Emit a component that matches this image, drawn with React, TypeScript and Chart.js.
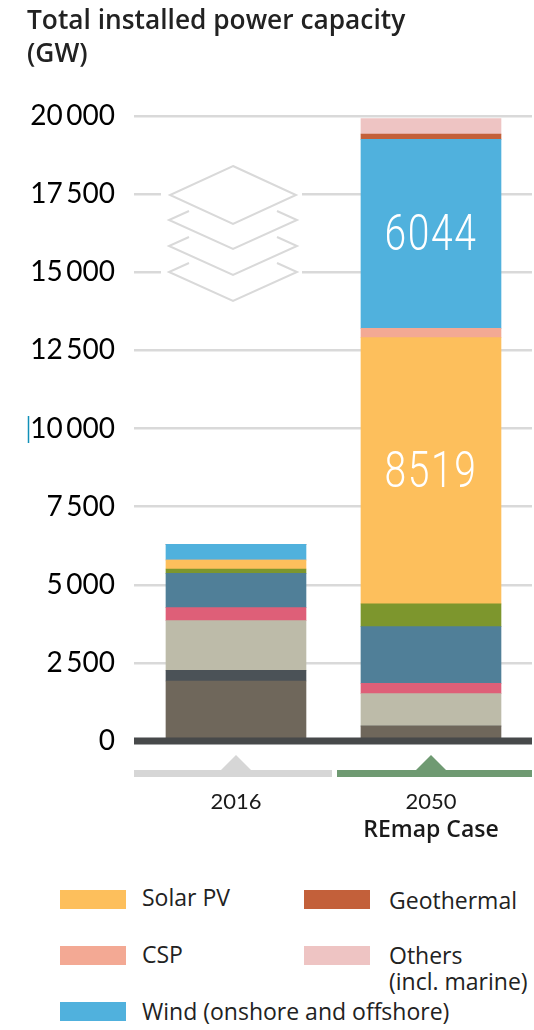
import React, { useEffect, useRef } from "react";
import { Chart, registerables } from "chart.js";

Chart.register(...registerables);

const years = ["2016", "2050"];
const subLabels = ["", "REmap Case"];
const yTicks = [0, 2500, 5000, 7500, 10000, 12500, 15000, 17500, 20000];
const tickText = ["0", "2\u2009500", "5\u2009000", "7\u2009500", "10\u2009000", "12\u2009500", "15\u2009000", "17\u2009500", "20\u2009000"];

const coal = [1920, 480];
const oil = [340, 0];
const gas = [1590, 1035];
const nuclear = [416, 330];
const hydro = [1098, 1813];
const bio = [139, 729];
const solarPV = [288, 8519];
const csp = [0, 300];
const wind = [502, 6044];
const geothermal = [0, 170];
const others = [0, 500];

const seriesList = [
  { label: "Coal", data: coal, color: "#6f675b", show: false },
  { label: "Oil", data: oil, color: "#4b5257", show: false },
  { label: "Gas", data: gas, color: "#bdbba9", show: false },
  { label: "Nuclear", data: nuclear, color: "#de5f78", show: false },
  { label: "Hydro", data: hydro, color: "#507f98", show: false },
  { label: "Bioenergy", data: bio, color: "#7d962d", show: false },
  { label: "Solar PV", data: solarPV, color: "#fdbf5c", show: true },
  { label: "CSP", data: csp, color: "#f3a994", show: false },
  { label: "Wind (onshore and offshore)", data: wind, color: "#50b1dd", show: true },
  { label: "Geothermal", data: geothermal, color: "#c3603a", show: false },
  { label: "Others", data: others, color: "#eec4c3", show: false },
];

const legendEntries = [
  { name: "Solar PV", color: "#fdbf5c", x: 60, y: 890, tx: 142, ty: 884 },
  { name: "Geothermal", color: "#c3603a", x: 304, y: 890, tx: 389, ty: 887 },
  { name: "CSP", color: "#f3a994", x: 60, y: 946, tx: 142, ty: 941 },
  { name: "Others\n(incl. marine)", color: "#eec4c3", x: 304, y: 946, tx: 389, ty: 942 },
  { name: "Wind (onshore and offshore)", color: "#50b1dd", x: 60, y: 1002, tx: 142, ty: 998 },
];

const FONT = "Lato, sans-serif";
const TEXT_FONT = "'Open Sans', sans-serif";

const decorations = {
  id: "decorations",
  afterDatasetsDraw(chart: any) {
    const { ctx, scales, chartArea } = chart;
    const xs = scales.x;
    const ys = scales.y;
    ctx.save();

    // zero baseline, limited to the plot width
    ctx.fillStyle = "#47494a";
    ctx.fillRect(chartArea.left, ys.getPixelForValue(0) - 3.5, chartArea.right - chartArea.left, 7);

    // stacked layers icon, sitting on a white patch that interrupts the gridlines
    ctx.fillStyle = "#fff";
    ctx.fillRect(161, 180, 141, 110);
    ctx.strokeStyle = "#d9d9d9";
    ctx.lineWidth = 2;
    ctx.lineJoin = "miter";
    const cx = 233;
    ctx.beginPath();
    ctx.moveTo(cx, 166);
    ctx.lineTo(cx + 63, 195);
    ctx.lineTo(cx, 224);
    ctx.lineTo(cx - 63, 195);
    ctx.closePath();
    ctx.stroke();
    [220, 246, 272].forEach((mid) => {
      ctx.beginPath();
      ctx.moveTo(cx - 44, mid - 9);
      ctx.lineTo(cx - 64, mid);
      ctx.lineTo(cx, mid + 29);
      ctx.lineTo(cx + 64, mid);
      ctx.lineTo(cx + 44, mid - 9);
      ctx.stroke();
    });

    // small scan mark beside the 10 000 label
    ctx.strokeStyle = "#1190b8";
    ctx.lineWidth = 1.5;
    ctx.beginPath();
    ctx.moveTo(28.5, 416);
    ctx.lineTo(28.5, 443);
    ctx.stroke();

    // year brackets with pointers
    const brackets = [
      { c: "#d6d6d6", from: 134, to: 332, v: 0 },
      { c: "#6f9a72", from: 337, to: 532, v: 1 },
    ];
    brackets.forEach((b) => {
      const mx = xs.getPixelForValue(b.v);
      ctx.fillStyle = b.c;
      ctx.fillRect(b.from, 770, b.to - b.from, 7);
      ctx.beginPath();
      ctx.moveTo(mx - 16, 771);
      ctx.lineTo(mx, 755);
      ctx.lineTo(mx + 16, 771);
      ctx.closePath();
      ctx.fill();
    });

    // second line below the year
    ctx.fillStyle = "#1a1a1a";
    ctx.font = `600 23px ${TEXT_FONT}`;
    ctx.textAlign = "center";
    ctx.textBaseline = "middle";
    subLabels.forEach((t, i) => {
      if (t) ctx.fillText(t, xs.getPixelForValue(i), 830);
    });

    // big value labels inside the segments
    chart.data.datasets.forEach((ds: any, di: number) => {
      if (!seriesList[di].show) return;
      let base = 0;
      for (let k = 0; k < di; k++) base += seriesList[k].data[1];
      const v = ds.data[1].y;
      const y = ys.getPixelForValue(base + v / 2);
      const x = xs.getPixelForValue(1);
      ctx.save();
      ctx.translate(x, y);
      ctx.scale(0.78, 1);
      ctx.fillStyle = "#fff";
      ctx.font = `300 50px Roboto, sans-serif`;
      (ctx as any).letterSpacing = "2px";
      ctx.textAlign = "center";
      ctx.textBaseline = "middle";
      ctx.fillText(String(v), 0, 4);
      ctx.restore();
    });
    ctx.restore();
  },
};

export default function App() {
  const ref = useRef<HTMLCanvasElement | null>(null);

  useEffect(() => {
    const chart = new Chart(ref.current as HTMLCanvasElement, {
      type: "bar",
      data: {
        datasets: seriesList.map((s) => ({
          label: s.label,
          data: s.data.map((y, i) => ({ x: i, y })),
          backgroundColor: s.color,
          barThickness: 140,
          borderWidth: 0,
        })),
      },
      options: {
        animation: false,
        responsive: false,
        layout: { padding: { top: 116, right: 2, left: 0, bottom: 0 } },
        plugins: { legend: { display: false }, tooltip: { enabled: false } },
        scales: {
          x: {
            type: "linear",
            stacked: true,
            offset: false,
            min: -0.523,
            max: 1.518,
            afterBuildTicks(s: any) {
              s.ticks = years.map((_, i) => ({ value: i }));
            },
            afterFit(s: any) {
              s.height = 119;
            },
            grid: { display: false, drawTicks: false, offset: false },
            border: { display: false },
            ticks: {
              autoSkip: false,
              maxRotation: 0,
              padding: 48,
              color: "#1a1a1a",
              font: { family: FONT, size: 22 },
              callback: (v: any) => years[v] ?? "",
            },
          },
          y: {
            stacked: true,
            min: 0,
            max: 20000,
            afterBuildTicks(s: any) {
              s.ticks = yTicks.map((value) => ({ value }));
            },
            afterFit(s: any) {
              s.width = 134;
            },
            grid: { color: "#d9d9d9", lineWidth: 2.5, drawTicks: false },
            border: { display: false },
            ticks: {
              padding: 19,
              color: "#000",
              font: { family: FONT, size: 28, weight: "400" },
              callback: (v: any) => tickText[yTicks.indexOf(v)],
            },
          },
        },
      },
      plugins: [decorations],
    } as any);
    return () => chart.destroy();
  }, []);

  return (
    <div style={{ position: "fixed", left: 0, top: 0, width: 534, height: 1030, background: "#fff", overflow: "hidden", fontFamily: TEXT_FONT, color: "#222" }}>
      <canvas ref={ref} width={534} height={860} style={{ position: "absolute", left: 0, top: 0 }} />
      <div style={{ position: "absolute", left: 27, top: 3, fontSize: 26.3, fontWeight: 600, lineHeight: "33px" }}>
        Total installed power capacity
        <br />
        (GW)
      </div>
      {legendEntries.map((e) => (
        <React.Fragment key={e.name}>
          <div style={{ position: "absolute", left: e.x, top: e.y, width: 66, height: 19, background: e.color }} />
          <div style={{ position: "absolute", left: e.tx, top: e.ty, fontSize: 23, lineHeight: "26px", whiteSpace: "pre" }}>
            {e.name}
          </div>
        </React.Fragment>
      ))}
    </div>
  );
}
